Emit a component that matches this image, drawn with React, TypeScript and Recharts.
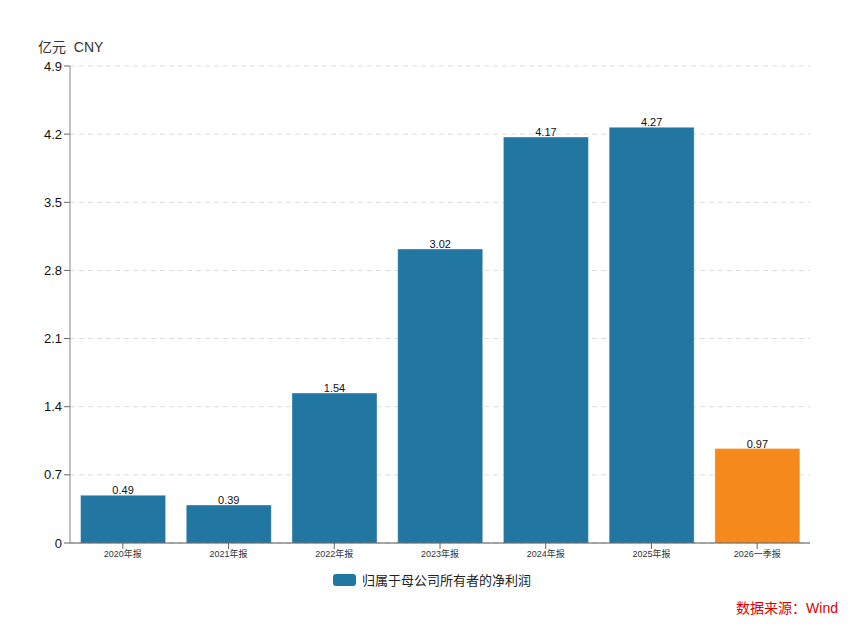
import React from 'react';
import { BarChart, Bar, XAxis, YAxis, CartesianGrid, Cell, LabelList } from 'recharts';

const periods = ['2020年报', '2021年报', '2022年报', '2023年报', '2024年报', '2025年报', '2026一季报'];
const netProfit = [0.49, 0.39, 1.54, 3.02, 4.17, 4.27, 0.97];
const yTicks = [0, 0.7, 1.4, 2.1, 2.8, 3.5, 4.2, 4.9];

const BLUE = '#2276a2';
const ORANGE = '#f6891c';

const chartData = periods.map((name, i) => ({ name, value: netProfit[i] }));

const fmtTick = (v: number) => (v === 0 ? '0' : v.toFixed(1));

export default function App() {
  return (
    <div
      style={{
        position: 'absolute',
        left: 0,
        top: 0,
        width: 865,
        height: 629,
        background: '#fff',
        fontFamily: '"Liberation Sans", "Noto Sans CJK SC", sans-serif',
      }}
    >
      <div style={{ position: 'absolute', left: 38, top: 36, fontSize: 14, color: '#333' }}>
        亿元&nbsp;&nbsp;CNY
      </div>
      <BarChart
        width={865}
        height={629}
        data={chartData}
        margin={{ top: 66, right: 55, bottom: 56, left: 30 }}
        barCategoryGap="10%"
      >
        <CartesianGrid vertical={false} strokeDasharray="5 4" stroke="#dcdcdc" />
        <XAxis
          dataKey="name"
          height={30}
          interval={0}
          tick={{ fontSize: 9, fill: '#333' }}
          tickLine={{ stroke: '#666' }}
          tickSize={6}
          axisLine={{ stroke: '#555' }}
        />
        <YAxis
          width={40}
          domain={[0, 4.9]}
          ticks={yTicks}
          tickFormatter={fmtTick}
          interval={0}
          tick={{ fontSize: 13, fill: '#111' }}
          tickLine={{ stroke: '#666' }}
          tickSize={6}
          axisLine={{ stroke: '#888' }}
        />
        <Bar dataKey="value" isAnimationActive={false} stroke="#ffffff" strokeOpacity={0.35} strokeWidth={1}>
          {chartData.map((d, i) => (
            <Cell key={d.name} fill={i === chartData.length - 1 ? ORANGE : BLUE} />
          ))}
          <LabelList dataKey="value" position="top" offset={1} style={{ fontSize: 11, fill: '#111' }} />
        </Bar>
      </BarChart>
      <div
        style={{
          position: 'absolute',
          left: 333,
          top: 570,
          display: 'flex',
          alignItems: 'center',
          fontSize: 13,
          color: '#222',
        }}
      >
        <span
          style={{
            display: 'inline-block',
            width: 23,
            height: 12,
            borderRadius: 3,
            background: BLUE,
            marginRight: 6,
          }}
        />
        归属于母公司所有者的净利润
      </div>
      <div style={{ position: 'absolute', right: 27, top: 597, fontSize: 14, color: '#e00000' }}>
        数据来源：Wind
      </div>
    </div>
  );
}
